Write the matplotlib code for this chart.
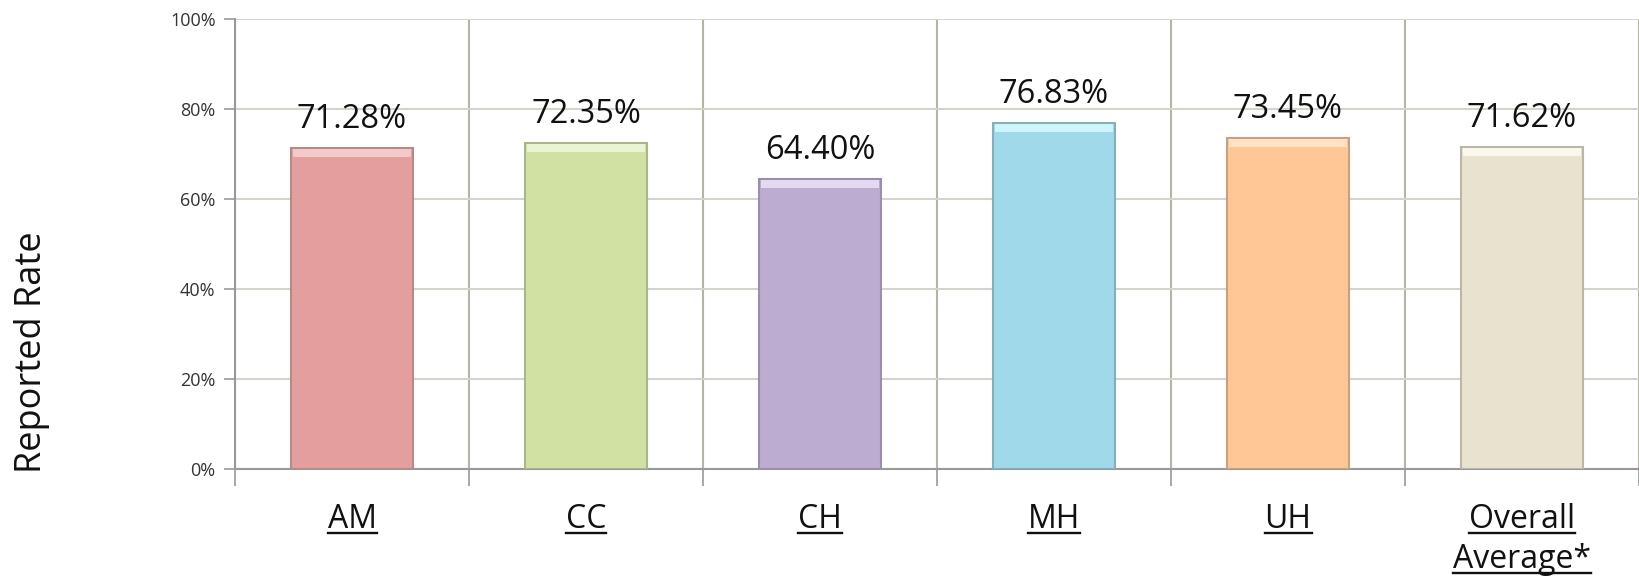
import matplotlib
matplotlib.use("Agg")
import matplotlib.pyplot as plt
from matplotlib.lines import Line2D
import numpy as np

categories = ["AM", "CC", "CH", "MH", "UH", "Overall\nAverage*"]
values = [71.28, 72.35, 64.40, 76.83, 73.45, 71.62]
value_labels = ["71.28%", "72.35%", "64.40%", "76.83%", "73.45%", "71.62%"]
yticks = [0, 20, 40, 60, 80, 100]
ytick_labels = ["0%", "20%", "40%", "60%", "80%", "100%"]
fill_colors = ["#E59E9E", "#D0E1A3", "#BCACD2", "#9FD9EA", "#FDC796", "#E8E3CF"]
edge_colors = ["#B98888", "#A9B58C", "#9A8EAB", "#86AFBB", "#C9A180", "#BAB7A8"]
top_colors = ["#F3CACA", "#EAF4D0", "#E4D8F3", "#CDF3FC", "#FFE2C4", "#FAF8EC"]

plt.rcParams["font.family"] = ["Open Sans", "DejaVu Sans"]

fig = plt.figure(figsize=(16.39, 5.80), dpi=100)
ax = fig.add_axes([235/1639, 1 - 469/580, 1404/1639, 450/580])

x = np.arange(len(categories))
w = 0.52
vals = np.array(values)
ax.bar(x, vals, width=w, color=fill_colors, edgecolor=edge_colors, linewidth=1.5, zorder=3)
strip = 1.8
ax.bar(x, strip, bottom=vals - strip - 0.2, width=w - 0.012, color=top_colors,
       linewidth=0, zorder=4)

for xi, v, lab in zip(x, vals, value_labels):
    ax.annotate(lab, (xi, v), xytext=(0, 14.5), textcoords="offset points",
                ha="center", va="baseline", fontsize=23.5, color="#111111", zorder=5)

ax.set_xlim(-0.5, len(categories) - 0.5)
ax.set_ylim(0, 100)
ax.set_yticks(yticks)
ax.set_yticklabels(ytick_labels, fontsize=13, color="#333333")
ax.tick_params(axis="y", length=8, width=1.2, color="#999999", pad=6)

ax.set_xticks(x)
ax.set_xticklabels([""] * len(categories))
ax.tick_params(axis="x", which="major", length=0)
ax.set_xticks(np.arange(-0.5, len(categories), 1.0), minor=True)
ax.tick_params(axis="x", which="minor", length=12, width=1.2, color="#9A9A9A")

ax.grid(axis="y", color="#D4D3CC", linewidth=1.5, zorder=0)
ax.grid(axis="x", which="minor", color="#B8B4A5", linewidth=1.5, zorder=0)
ax.grid(axis="x", which="major", visible=False)

for s in ["top", "right"]:
    ax.spines[s].set_visible(False)
ax.spines["left"].set_color("#999999")
ax.spines["left"].set_linewidth(1.5)
ax.spines["bottom"].set_color("#999999")
ax.spines["bottom"].set_linewidth(1.5)
ax.set_axisbelow(True)

# category labels (underlined), one text per line
cat_texts = []
for xi, c in zip(x, categories):
    for li, part in enumerate(c.split("\n")):
        t = ax.annotate(part, (xi, 0), xycoords=("data", "axes fraction"),
                        xytext=(0, -42.5 - 29.0 * li), textcoords="offset points",
                        ha="center", va="baseline", fontsize=23, color="#111111",
                        annotation_clip=False)
        cat_texts.append(t)

fig.text(32/1639, 1 - 352/580, "Reported Rate", rotation=90, fontsize=26,
         ha="center", va="center", color="#111111")

fig.canvas.draw()
renderer = fig.canvas.get_renderer()
W, H = fig.bbox.width, fig.bbox.height
for t in cat_texts:
    bb = t.get_window_extent(renderer)
    base_y = ax.transAxes.transform((0, 0))[1] + t.xyann[1] * fig.dpi / 72.0
    uy = base_y - 4.5
    fig.add_artist(Line2D([bb.x0 / W, bb.x1 / W], [uy / H, uy / H],
                          color="#111111", linewidth=1.7, transform=fig.transFigure))

fig.savefig("out.png", dpi=100)
